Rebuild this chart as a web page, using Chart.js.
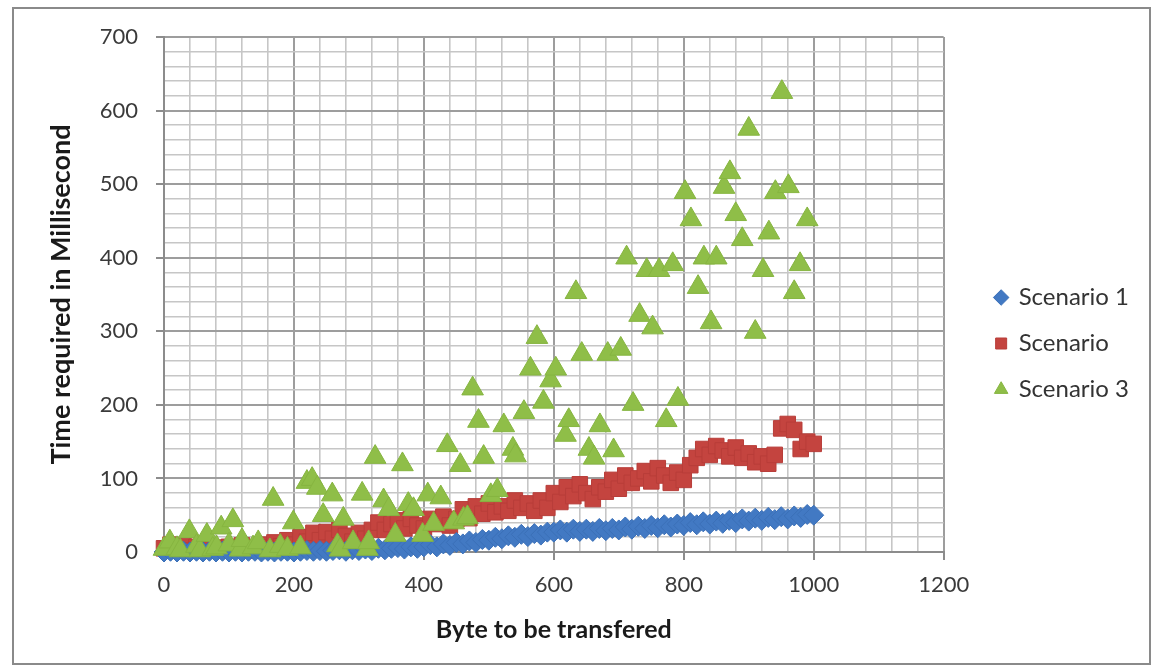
<!DOCTYPE html>
<html>
<head>
<meta charset="utf-8">
<script src="https://cdn.jsdelivr.net/npm/chart.js@4.4.1/dist/chart.umd.min.js"></script>
<style>
  html, body { margin: 0; padding: 0; background: #ffffff; }
  canvas { display: block; }
</style>
</head>
<body>
<canvas id="chart" width="1158" height="670"></canvas>
<script>
// Transfer sizes (bytes) shared by scenarios 1 and 2
const byteSteps = [
  0, 10, 20, 30, 40, 50, 60, 70, 80, 90,
  100, 110, 120, 130, 140, 150, 160, 170, 180, 190,
  200, 210, 220, 230, 240, 250, 260, 270, 280, 290,
  300, 310, 320, 330, 340, 350, 360, 370, 380, 390,
  400, 410, 420, 430, 440, 450, 460, 470, 480, 490,
  500, 510, 520, 530, 540, 550, 560, 570, 580, 590,
  600, 610, 620, 630, 640, 650, 660, 670, 680, 690,
  700, 710, 720, 730, 740, 750, 760, 770, 780, 790,
  800, 810, 820, 830, 840, 850, 860, 870, 880, 890,
  900, 910, 920, 930, 940, 950, 960, 970, 980, 990,
  1000
];

// Scenario 1: time in ms
const scenario1Ms = [
  0, 1, 0, 1, 0, 1, 0, 1, 0, 1,
  0, 1, 0, 1, 1, 0, 1, 0, 1, 1,
  0, 1, 2, 1, 2, 1, 2, 3, 1, 3,
  2, 4, 2, 5, 3, 5, 6, 4, 7, 5,
  7, 10, 7, 11, 9, 13, 11, 15, 13, 17,
  16, 20, 18, 22, 20, 24, 21, 25, 23, 27,
  27, 30, 27, 31, 28, 31, 28, 32, 29, 32,
  30, 34, 31, 35, 32, 36, 33, 37, 34, 38,
  36, 40, 37, 41, 38, 42, 39, 43, 40, 45,
  42, 46, 43, 47, 44, 48, 45, 49, 47, 51,
  50
];

// Scenario 2 ("Scenario"): time in ms
const scenario2Ms = [
  5, 10, 4, 8, 2, 7, 10, 4, 6, 2,
  7, 3, 9, 5, 2, 10, 6, 13, 8, 16,
  10, 20, 14, 26, 16, 27, 18, 30, 22, 14,
  26, 18, 30, 40, 30, 38, 43, 32, 45, 36,
  32, 45, 38, 48, 36, 45, 58, 46, 62, 52,
  66, 54, 62, 56, 70, 60, 66, 56, 70, 60,
  80, 68, 88, 76, 92, 80, 72, 88, 82, 98,
  86, 104, 94, 100, 110, 96, 114, 104, 94, 108,
  98, 118, 128, 140, 132, 144, 138, 130, 142, 128,
  134, 122, 130, 120, 132, 168, 174, 166, 140, 150,
  147
];

// Scenario 3: transfer sizes (bytes) and time in ms
const scenario3Bytes = [
  0, 9, 20, 25, 39, 50, 55, 66, 75, 81,
  88, 100, 106, 117, 120, 137, 145, 163, 168, 179,
  190, 199, 210, 220, 228, 236, 245, 259, 267, 271,
  276, 291, 305, 313, 315, 325, 338, 346, 356, 367,
  376, 384, 398, 406, 415, 426, 436, 446, 456, 461,
  467, 475, 484, 492, 503, 513, 523, 537, 541, 554,
  564, 574, 584, 595, 603, 618, 623, 634, 643, 654,
  662, 671, 683, 692, 703, 712, 722, 732, 743, 752,
  762, 773, 783, 791, 802, 811, 822, 831, 842, 850,
  862, 871, 880, 890, 900, 910, 922, 931, 941, 951,
  961, 970, 979, 990
];
const scenario3Ms = [
  4, 14, 5, 2, 28, 8, 2, 23, 4, 6,
  33, 10, 43, 3, 16, 6, 13, 2, 72, 8,
  4, 40, 6, 95, 99, 87, 50, 78, 9, 3,
  45, 13, 79, 4, 13, 129, 70, 58, 23, 119,
  65, 58, 23, 78, 38, 74, 145, 40, 118, 45,
  47, 222, 178, 129, 77, 84, 172, 140, 131, 190,
  249, 292, 204, 233, 249, 159, 179, 353, 269, 140,
  128, 172, 269, 138, 276, 400, 201, 322, 383, 305,
  383, 179, 391, 208, 489, 452, 360, 400, 312, 400,
  496, 516, 459, 425, 575, 299, 383, 434, 489, 625,
  497, 353, 391, 452
];

const seriesNames = ['Scenario 1', 'Scenario', 'Scenario 3'];
const xTickLabels = [0, 200, 400, 600, 800, 1000, 1200];
const yTickLabels = [0, 100, 200, 300, 400, 500, 600, 700];

const toPoints = (xs, ys) => xs.map((x, i) => ({ x: x, y: ys[i] }));

const isMajor = (list) => (ctx) => !!ctx.tick && list.includes(ctx.tick.value);
const xMajor = isMajor(xTickLabels);
const yMajor = isMajor(yTickLabels);

// White background and outer frame of the chart
const chartFrame = {
  id: 'chartFrame',
  beforeDraw(chart) {
    const c = chart.ctx;
    c.save();
    c.fillStyle = '#ffffff';
    c.fillRect(0, 0, chart.width, chart.height);
    c.strokeStyle = '#8a8a8a';
    c.lineWidth = 2;
    c.strokeRect(13, 8, 1137, 656);
    c.restore();
  }
};

// Move the legend block a little away from the plot
const legendOffset = {
  id: 'legendOffset',
  afterLayout(chart) {
    const lg = chart.legend;
    if (lg) {
      lg.left += 30;
      lg.right += 30;
      lg.top -= 5;
      lg.bottom -= 5;
    }
  }
};

Chart.defaults.font.family = 'Lato, "Open Sans", sans-serif';
Chart.defaults.color = '#3a3a3a';

new Chart(document.getElementById('chart'), {
  type: 'scatter',
  data: {
    datasets: [
      {
        label: seriesNames[0],
        data: toPoints(byteSteps, scenario1Ms),
        pointStyle: 'rectRot',
        pointRadius: 10,
        backgroundColor: '#4279c3',
        borderColor: '#3b70b8',
        borderWidth: 1,
        clip: false,
        order: 1
      },
      {
        label: seriesNames[1],
        data: toPoints(byteSteps, scenario2Ms),
        pointStyle: 'rect',
        pointRadius: 11,
        backgroundColor: '#c4443f',
        borderColor: '#b83d39',
        borderWidth: 1,
        clip: false,
        order: 2
      },
      {
        label: seriesNames[2],
        data: toPoints(scenario3Bytes, scenario3Ms),
        pointStyle: 'triangle',
        pointRadius: 12.5,
        backgroundColor: '#8fbe48',
        borderColor: '#86b540',
        borderWidth: 1,
        clip: false,
        order: 0
      }
    ]
  },
  options: {
    responsive: false,
    animation: false,
    layout: { padding: { left: 14, top: 37, right: 49, bottom: 10 } },
    plugins: {
      tooltip: { enabled: false },
      legend: {
        position: 'right',
        align: 'center',
        labels: {
          usePointStyle: true,
          boxWidth: 11,
          boxHeight: 11,
          padding: 22,
          color: '#333333',
          font: { size: 24 },
          sort: (a, b) => a.datasetIndex - b.datasetIndex
        }
      }
    },
    scales: {
      x: {
        type: 'linear',
        min: 0,
        max: 1200,
        ticks: {
          stepSize: 40,
          maxTicksLimit: 100,
          autoSkip: false,
          maxRotation: 0,
          padding: 12,
          color: '#3a3a3a',
          font: { size: 22 },
          callback: (v) => (xTickLabels.includes(v) ? String(v) : '')
        },
        grid: {
          color: (ctx) => (xMajor(ctx) ? '#9d9d9d' : '#c6c6c6'),
          lineWidth: (ctx) => (xMajor(ctx) ? 2 : 1.6),
          drawTicks: true,
          tickLength: 8,
          tickColor: (ctx) => (xMajor(ctx) ? '#8c8c8c' : 'rgba(0,0,0,0)'),
          tickWidth: 2
        },
        border: { color: '#8c8c8c', width: 2 },
        title: {
          display: true,
          text: 'Byte to be transfered',
          color: '#1a1a1a',
          font: { size: 25, weight: 'bold' },
          padding: { top: 0, bottom: 15 }
        },
        afterFit: (scale) => { scale.height = 108; }
      },
      y: {
        type: 'linear',
        min: 0,
        max: 700,
        ticks: {
          stepSize: 20,
          maxTicksLimit: 100,
          autoSkip: false,
          padding: 18,
          color: '#3a3a3a',
          font: { size: 22 },
          callback: (v) => (yTickLabels.includes(v) ? String(v) : '')
        },
        grid: {
          color: (ctx) => (yMajor(ctx) ? '#9d9d9d' : '#c6c6c6'),
          lineWidth: (ctx) => (yMajor(ctx) ? 2 : 1.6),
          drawTicks: true,
          tickLength: 8,
          tickColor: (ctx) => (yMajor(ctx) ? '#8c8c8c' : 'rgba(0,0,0,0)'),
          tickWidth: 2
        },
        border: { color: '#8c8c8c', width: 2 },
        title: {
          display: true,
          text: 'Time required in Millisecond',
          color: '#1a1a1a',
          font: { size: 27, weight: 'bold' },
          padding: { top: 31, bottom: 0 }
        },
        afterFit: (scale) => { scale.width = 150; }
      }
    }
  },
  plugins: [chartFrame, legendOffset]
});
</script>
</body>
</html>
